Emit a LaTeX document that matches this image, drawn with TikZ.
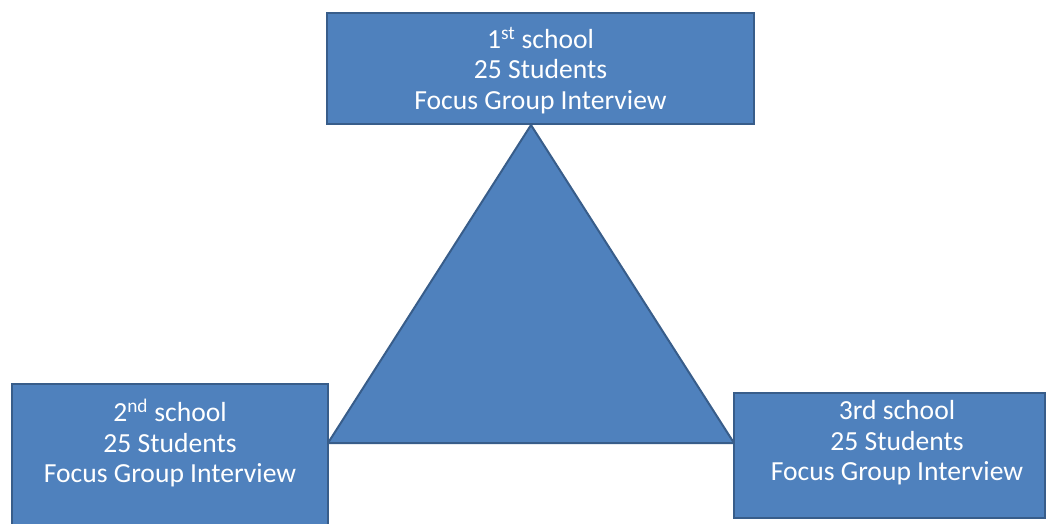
\documentclass[tikz,border=0pt]{standalone}
\usepackage{fontspec}
\setmainfont{Carlito}
\definecolor{boxfill}{HTML}{4F81BD}
\definecolor{boxline}{HTML}{385D8A}
\begin{document}
\begin{tikzpicture}[x=1pt,y=-1pt,
  schoolbox/.style={draw=boxline,fill=boxfill,line width=2.2pt,rectangle,inner sep=0pt},
  schooltext/.style={text=white,align=center,inner sep=0pt,
    font=\fontsize{27.6}{30.5}\selectfont},
  tri/.style={draw=boxline,fill=boxfill,line width=2pt,line join=miter}]
\useasboundingbox (0,0) rectangle (1047,523);
% central triangle
\coordinate (apex) at (531,125);
\coordinate (bl) at (328,443);
\coordinate (br) at (734,443);
\draw[tri] (apex) -- (bl) -- (br) -- cycle;
% school boxes
\node[schoolbox,minimum width=427pt,minimum height=111pt] (top) at (540.5,68.5) {};
\node[schoolbox,minimum width=316pt,minimum height=160pt] (left) at (170,464) {};
\node[schoolbox,minimum width=311pt,minimum height=125pt] (right) at (889.5,455.5) {};
% box texts
\node[schooltext] (toptext) at (540.5,70.5) {1\textsuperscript{st} school\\25 Students\\Focus Group Interview};
\node[schooltext] (lefttext) at (170,443) {2\textsuperscript{nd} school\\25 Students\\Focus Group Interview};
\node[schooltext] (righttext) at (897,443) {3rd school\\25 Students\\Focus Group Interview};
\end{tikzpicture}
\end{document}
